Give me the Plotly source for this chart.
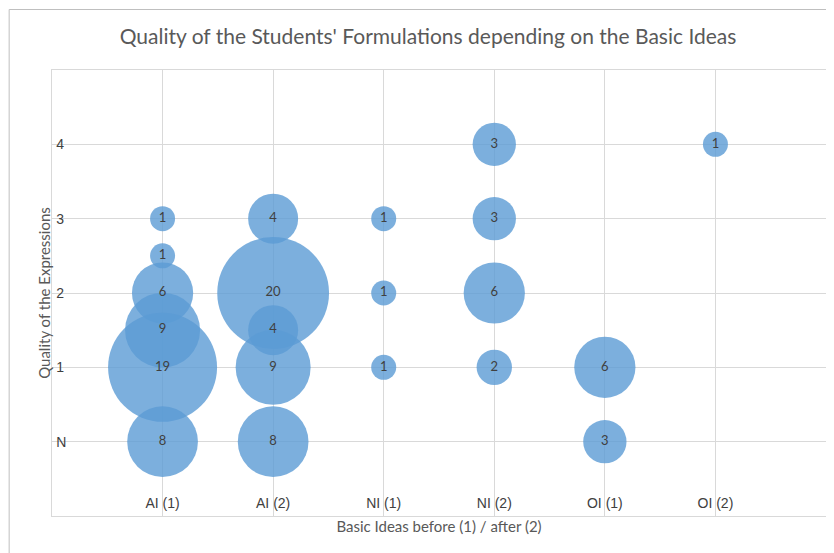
import plotly.graph_objects as go

categories = ["AI (1)", "AI (2)", "NI (1)", "NI (2)", "OI (1)", "OI (2)"]
point_category = ["AI (1)", "AI (1)", "AI (1)", "AI (1)", "AI (1)", "AI (1)",
                  "AI (2)", "AI (2)", "AI (2)", "AI (2)", "AI (2)",
                  "NI (1)", "NI (1)", "NI (1)",
                  "NI (2)", "NI (2)", "NI (2)", "NI (2)",
                  "OI (1)", "OI (1)",
                  "OI (2)"]
point_quality = [3, 2.5, 2, 1.5, 1, 0,
                 3, 2, 1.5, 1, 0,
                 3, 2, 1,
                 4, 3, 2, 1,
                 1, 0,
                 4]
point_count = [1, 1, 6, 9, 19, 8,
               4, 20, 4, 9, 8,
               1, 1, 1,
               3, 3, 6, 2,
               6, 3,
               1]
y_tickvals = [0, 1, 2, 3, 4]
y_ticktext = ["N", "1", "2", "3", "4"]

fig = go.Figure()
fig.add_trace(go.Scatter(
    x=point_category, y=point_quality,
    mode="markers+text",
    text=[str(c) for c in point_count],
    textposition="middle center",
    textfont=dict(family="Lato, Open Sans, sans-serif", size=13, color="#404040"),
    marker=dict(size=point_count, sizemode="area", sizeref=2 / 625,
                color="#5B9BD5", opacity=0.8, line=dict(width=0)),
    hoverinfo="skip", showlegend=False,
))

# the page body has an 8px margin, so layout pixel positions are offset by -8
OFF = 8
W, H = 834, 553
grid = "#d9d9d9"
L, R, T, B = 52.3 - OFF, 825.7 - OFF, 70 - OFF, 516 - OFF
fig.update_layout(
    width=W, height=H,
    margin=dict(l=L, r=W - R, t=T, b=H - B, autoexpand=False),
    paper_bgcolor="white", plot_bgcolor="white",
    title=dict(text="Quality of the Students' Formulations depending on the Basic Ideas",
               font=dict(family="Lato, Open Sans, sans-serif", size=21, color="#595959"),
               x=(428 - OFF) / W, xref="container", xanchor="center",
               y=1 - (37 - OFF) / H, yref="container", yanchor="middle"),
    xaxis=dict(type="category", categoryorder="array", categoryarray=categories,
               range=[-1, len(categories)], automargin=False,
               showgrid=True, gridcolor=grid, gridwidth=1,
               showline=True, linecolor=grid, linewidth=1, mirror=True,
               zeroline=False, ticks="",
               ticklabelposition="inside", ticklabelstandoff=5,
               tickfont=dict(family="Liberation Sans, Arial, sans-serif", size=14, color="#404040"),
               title=dict(text="Basic Ideas before (1) / after (2)", standoff=11,
                          font=dict(family="Lato, Open Sans, sans-serif", size=15, color="#595959"))),
    yaxis=dict(range=[-1, 5], tickvals=y_tickvals, ticktext=y_ticktext, automargin=False,
               showgrid=True, gridcolor=grid, gridwidth=1,
               showline=True, linecolor=grid, linewidth=1, mirror=True,
               zeroline=False, ticks="",
               ticklabelposition="inside", ticklabelstandoff=4,
               tickfont=dict(family="Liberation Sans, Arial, sans-serif", size=14, color="#404040"),
               title=dict(text="Quality of the Expressions", standoff=1,
                          font=dict(family="Lato, Open Sans, sans-serif", size=15, color="#595959"))),
    shapes=[dict(type="rect", xref="paper", yref="paper",
                 x0=(9.5 - OFF - L) / (R - L), x1=1.05,
                 y0=-0.2, y1=(B - (9.5 - OFF)) / (B - T),
                 line=dict(color="#bfbfbf", width=1), fillcolor="rgba(0,0,0,0)", layer="below")],
)

fig.write_html("out.html")
